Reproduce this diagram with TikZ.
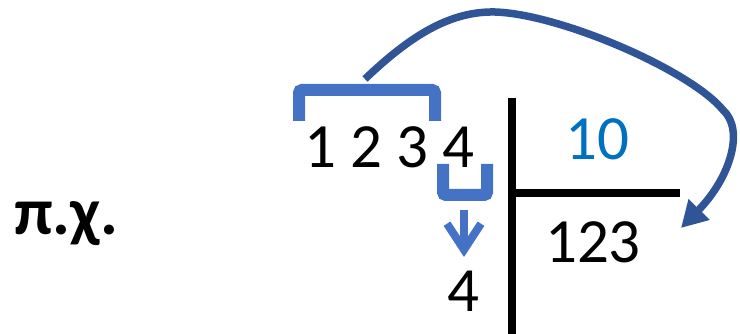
\documentclass[tikz,border=0pt]{standalone}
\usepackage{fontspec}
\setmainfont{Carlito}
\usetikzlibrary{arrows.meta}
\definecolor{brk}{HTML}{4472C4}
\definecolor{darr}{HTML}{2F5597}
\definecolor{tenc}{HTML}{0070C0}
\begin{document}
\begin{tikzpicture}[x=1pt,y=-1pt,
  txt/.style={inner sep=0pt,outer sep=0pt,font=\fontsize{63}{70}\selectfont},
  bracket/.style={draw=brk,line width=12pt,rounded corners=3pt},
  divline/.style={draw=black,line width=8pt},
  downarr/.style={draw=brk,line width=8pt,-{Straight Barb[length=26pt,width=34pt]}},
  curvarr/.style={draw=darr,line width=7.5pt,-{Triangle[length=26pt,width=28pt]}}]
\useasboundingbox (0,0) rectangle (740,334);
% label
\node[txt,anchor=base west,font=\fontsize{67}{74}\selectfont\bfseries] (pc) at (14,235) {π.χ.};
% dividend
\node[txt,anchor=base west] (num) at (304,168) {1 2 3 4};
% divisor and quotient
\node[txt,anchor=base,text=tenc] (ten) at (597,160) {10};
\node[txt,anchor=base] (quo) at (593,263) {123};
\node[txt,anchor=base] (rem) at (463,312) {4};
% division lines
\coordinate (vtop) at (512,98);
\coordinate (vbot) at (512,334);
\coordinate (hl) at (512,193);
\coordinate (hr) at (680,193);
\draw[divline] (vtop) -- (vbot);
\draw[divline] (hl) -- (hr);
% brackets
\draw[bracket] (299,121) -- (299,90) -- (435,90) -- (435,121);
\draw[bracket] (443,164) -- (443,195) -- (487,195) -- (487,164);
% down arrow
\coordinate (dstart) at (464,210);
\coordinate (dend) at (464,257);
\draw[downarr] (dstart) -- (dend);
% curved arrow
\coordinate (cs) at (365,79);
\coordinate (ce) at (681,228);
\draw[curvarr] (cs) .. controls (410,36) and (450,11) .. (495,12)
  .. controls (560,14) and (690,70) .. (723,110)
  .. controls (745,130) and (730,178) .. (ce);
\end{tikzpicture}
\end{document}
